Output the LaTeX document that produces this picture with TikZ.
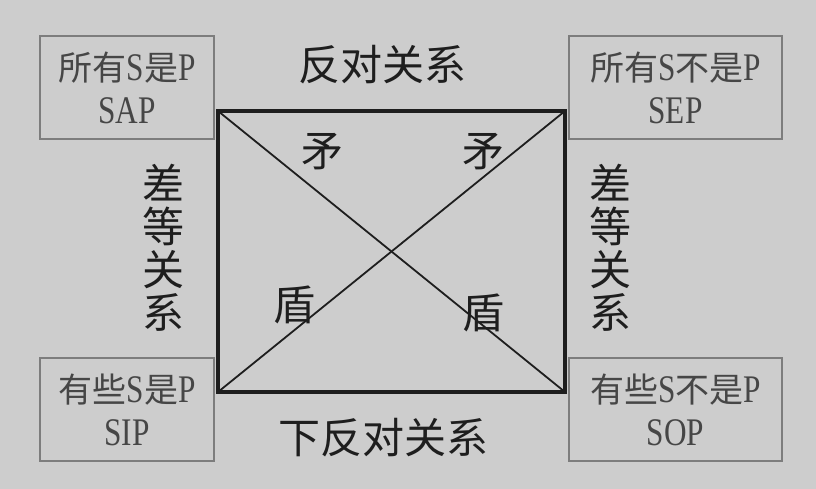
\documentclass[tikz,border=0pt]{standalone}
\usepackage{fontspec}
\setmainfont[FakeStretch=0.8,Scale=1.15]{Liberation Serif}
\newfontfamily\cjk{Noto Sans CJK SC}

\definecolor{bgray}{RGB}{205,205,205}
\definecolor{ink}{RGB}{30,30,30}
\definecolor{boxline}{RGB}{125,125,125}
\definecolor{boxtext}{RGB}{70,70,70}

\tikzset{
    prop/.style={draw=boxline, line width=1.3pt, minimum width=174pt, minimum height=103pt,
        inner sep=0pt, align=center, text=boxtext, font=\fontsize{34}{43}\selectfont},
    wideprop/.style={prop, minimum width=213pt},
    rel/.style={text=ink, font=\cjk\fontsize{42}{44}\selectfont},
    vrel/.style={text=ink, align=center, font=\cjk\fontsize{42}{43}\selectfont},
}

\begin{document}
\begin{tikzpicture}[x=1pt, y=-1pt]
    \path[use as bounding box, fill=bgray] (0,0) rectangle (816,489);

    % The four propositions
    \node[prop] (sap) at (127,87.5) {{\cjk 所有}S{\cjk 是}P\\SAP};
    \node[wideprop] (sep) at (675.5,87.5) {{\cjk 所有}S{\cjk 不是}P\\SEP};
    \node[prop] (sip) at (127,409.5) {{\cjk 有些}S{\cjk 是}P\\SIP};
    \node[wideprop] (sop) at (675.5,409.5) {{\cjk 有些}S{\cjk 不是}P\\SOP};

    % Square of opposition
    \coordinate (a) at (218,111);
    \coordinate (e) at (565,111);
    \coordinate (i) at (218,392);
    \coordinate (o) at (565,392);
    \draw[ink, line width=3.4pt, line join=miter] (a) -- (e) -- (o) -- (i) -- cycle;
    \draw[ink, line width=1.8pt] (a) -- (o);
    \draw[ink, line width=1.8pt] (e) -- (i);

    % Relations
    \node[rel] (contrary) at (382,65) {反对关系};
    \node[rel] (subcontrary) at (383,438) {下反对关系};
    \node[vrel] (subleft) at (163,248) {差\\等\\关\\系};
    \node[vrel] (subright) at (610,248) {差\\等\\关\\系};
    \node[rel] (mao1) at (322,152) {矛};
    \node[rel] (mao2) at (483,152) {矛};
    \node[rel] (dun1) at (294,305) {盾};
    \node[rel] (dun2) at (483,313) {盾};
\end{tikzpicture}
\end{document}
